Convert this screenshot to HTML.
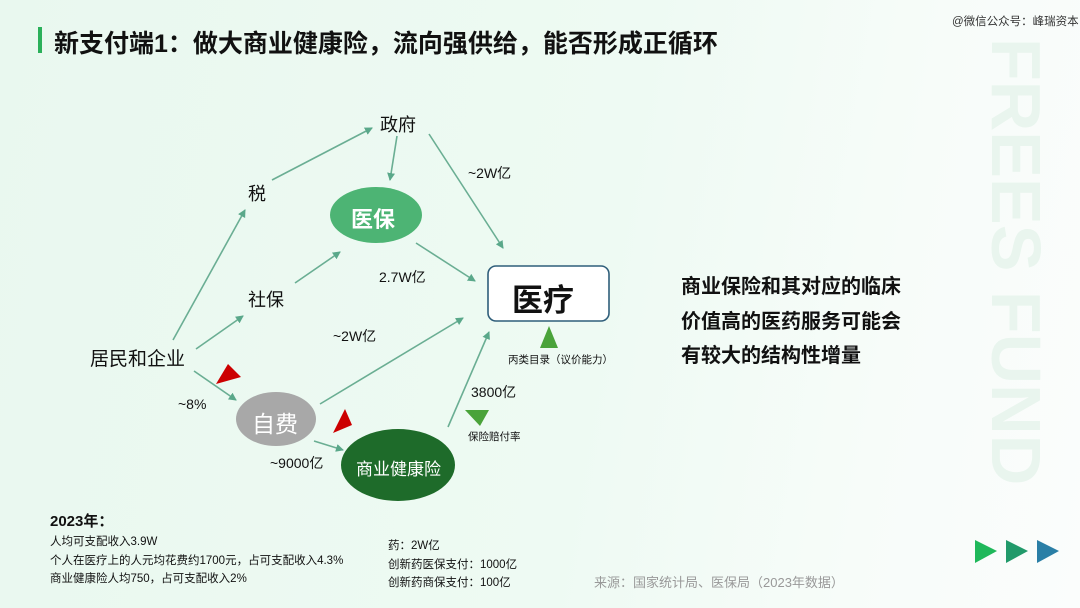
<!DOCTYPE html>
<html><head><meta charset="utf-8"><style>
html,body{margin:0;padding:0}
body{width:1080px;height:608px;overflow:hidden;position:relative;background:linear-gradient(100deg,#e9f8ef 0%,#eefaf3 55%,#f7fcf9 80%,#fbfdfc 100%);font-family:"Liberation Sans","Noto Sans CJK SC",sans-serif;color:#111}
.t{position:absolute;white-space:nowrap}
</style></head><body>
<div class="t" style="left:952px;top:13px;font-size:11.5px;color:#333">@微信公众号：峰瑞资本</div>
<div style="position:absolute;left:38px;top:27px;width:4px;height:26px;background:#2bb05a"></div>
<div class="t" style="left:54px;top:24px;font-size:25px;font-weight:bold;color:#111">新支付端1：做大商业健康险，流向强供给，能否形成正循环</div>
<div class="t" style="left:990px;top:38px;transform-origin:0 0;transform:translateX(66px) rotate(90deg);font-size:70px;font-weight:bold;color:#e9f5ee;letter-spacing:0px">FREES FUND</div>
<svg width="1080" height="608" style="position:absolute;left:0;top:0">
<defs><marker id="a" markerWidth="8" markerHeight="8" refX="7" refY="4" orient="auto" markerUnits="userSpaceOnUse"><path d="M0,0 L8,4 L0,8 z" fill="#5aa88a"/></marker></defs>
<g stroke="#6aae93" stroke-width="1.6" fill="none" marker-end="url(#a)">
<line x1="173" y1="340" x2="245" y2="210"/>
<line x1="272" y1="180" x2="372" y2="128"/>
<line x1="397" y1="136" x2="390" y2="180"/>
<line x1="429" y1="134" x2="503" y2="248"/>
<line x1="416" y1="243" x2="475" y2="281"/>
<line x1="295" y1="283" x2="340" y2="252"/>
<line x1="196" y1="349" x2="243" y2="316"/>
<line x1="194" y1="371" x2="236" y2="400"/>
<line x1="320" y1="404" x2="463" y2="318"/>
<line x1="314" y1="441" x2="343" y2="450"/>
<line x1="448" y1="427" x2="489" y2="332"/>
</g>
<ellipse cx="376" cy="215" rx="46" ry="28" fill="#4db474"/>
<ellipse cx="276" cy="419" rx="40" ry="27" fill="#a8a8a8"/>
<ellipse cx="398" cy="465" rx="57" ry="36" fill="#1e6b2a"/>
<rect x="488" y="266" width="121" height="55" rx="8" fill="#fff" stroke="#2f5e7a" stroke-width="1.6"/>
<polygon points="216,384 228,364 241,377" fill="#cc0000"/>
<polygon points="333,433 345,409 352,425" fill="#cc0000"/>
<polygon points="540,348 558,348 549,326" fill="#4aa33a"/>
<polygon points="465,410 489,410 480,426" fill="#4aa33a"/>
<polygon points="975,540 997,551 975,563" fill="#1fb85a"/>
<polygon points="1006,540 1028,551 1006,563" fill="#219a6a"/>
<polygon points="1037,540 1059,551 1037,563" fill="#2a7fa6"/>
</svg>
<div class="t" style="left:380px;top:111px;font-size:18px">政府</div>
<div class="t" style="left:248px;top:180px;font-size:18px">税</div>
<div class="t" style="left:351px;top:202px;font-size:22px;font-weight:bold;color:#fff">医保</div>
<div class="t" style="left:248px;top:286px;font-size:18px">社保</div>
<div class="t" style="left:90px;top:344px;font-size:19px">居民和企业</div>
<div class="t" style="left:512px;top:275px;font-size:31px;font-weight:bold">医疗</div>
<div class="t" style="left:252px;top:405px;font-size:23px;color:#fff">自费</div>
<div class="t" style="left:356px;top:455px;font-size:17px;color:#fff">商业健康险</div>
<div class="t" style="left:468px;top:163px;font-size:14px">~2W亿</div>
<div class="t" style="left:379px;top:267px;font-size:14px">2.7W亿</div>
<div class="t" style="left:333px;top:326px;font-size:14px">~2W亿</div>
<div class="t" style="left:178px;top:396px;font-size:14px">~8%</div>
<div class="t" style="left:270px;top:453px;font-size:14px">~9000亿</div>
<div class="t" style="left:471px;top:382px;font-size:14px">3800亿</div>
<div class="t" style="left:508px;top:352px;font-size:10.5px">丙类目录（议价能力）</div>
<div class="t" style="left:468px;top:429px;font-size:10.5px">保险赔付率</div>
<div class="t" style="left:681px;top:270px;font-size:20px;font-weight:bold;line-height:34.5px">商业保险和其对应的临床<br>价值高的医药服务可能会<br>有较大的结构性增量</div>
<div class="t" style="left:50px;top:510px;font-size:15px;font-weight:bold">2023年：</div>
<div class="t" style="left:50px;top:533px;font-size:11.5px;line-height:18.5px">人均可支配收入3.9W<br>个人在医疗上的人元均花费约1700元，占可支配收入4.3%<br>商业健康险人均750，占可支配收入2%</div>
<div class="t" style="left:388px;top:537px;font-size:11.5px;line-height:18.5px">药：2W亿<br>创新药医保支付：1000亿<br>创新药商保支付：100亿</div>
<div class="t" style="left:594px;top:572px;font-size:13px;color:#999">来源：国家统计局、医保局（2023年数据）</div>
</body></html>
